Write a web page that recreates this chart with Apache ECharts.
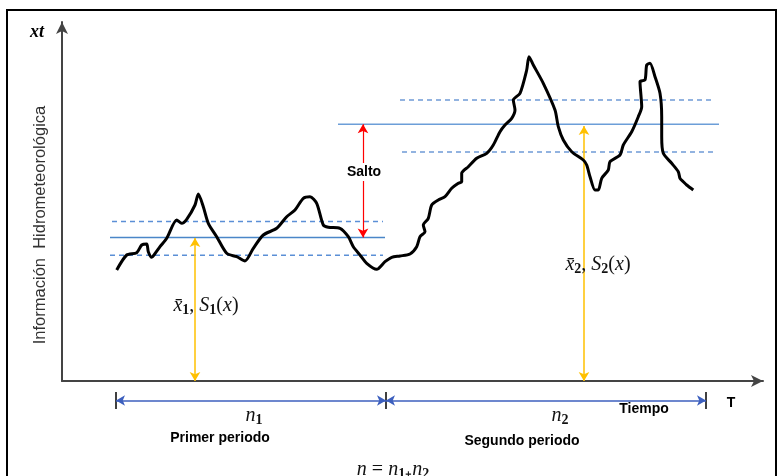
<!DOCTYPE html>
<html>
<head>
<meta charset="utf-8">
<script src="https://cdn.jsdelivr.net/npm/echarts@6/dist/echarts.min.js"></script>
<style>html,body{margin:0;padding:0;background:#fff}#c{width:779px;height:476px}</style>
</head>
<body>
<div id="c"></div>
<script>
// Hydro-meteorological series (time units along x, value units along y)
const curveT = [54.7,64.7,74.7,79.7,84.7,86.3,89.7,92,98,104.7,114.7,119.7,124.7,133,136.3,141.3,146.3,154.7,164.7,174.7,183,191.3,201.3,214.7,224.7,233,241.3,248,254.7,261.3,266.3,278,286.3,291.3,298,304.7,314.7,323,329.7,338,348,354.7,358,363,361.3,366.3,369.7,376.3,383,389.7,396.3,399.7,399.7,406.3,414.7,424.7,431.3,438,443,449.7,453,451.3,458,464.7,467,471.3,481.3,493,496.3,501.3,509.7,521.3,524.7,528,533,536.3,539.7,546.3,548,558,561.3,569.7,576.3,579.7,578,583,584.7,588,593,598,599.7,599.7,601.3,609.7,616.3,618,621.3,624.7,631.3];
const curveV = [111,126,128.3,136,137,129.3,123.7,126,134.3,142.7,161,157.7,161.7,176,187,174.3,157.7,144.3,127.7,124.3,120,132.7,146,152.7,164.3,171,182.7,184.3,177.7,156,153.7,152.7,144.3,134.3,126,117.7,111.7,119.3,123.7,125,127,134.3,144.3,149.3,156,162.7,176,181,184.3,192.7,197.7,199.3,207.7,214.3,222.7,227.7,236,249.3,256,262.7,271,281,287.7,311,324.3,316,297.7,271,254.3,241,229.3,221,216,204.3,191,191,202.7,211,219.3,226,236,249.3,264.3,274.3,299.3,301,316,317.7,304.3,287.7,264.3,244.3,227.7,217.7,209.3,202.7,199.3,196,191];

// Period statistics: [tStart, tEnd, value]
const mean1  = [48, 323, 143.5];
const upper1 = [50, 321, 159.5];
const lower1 = [48, 321, 125.7];
const mean2  = [276, 657, 256.7];
const upper2 = [338, 650, 281];
const lower2 = [340, 651, 229];

// Period boundaries on time axis (drawn on the lower time-span strip)
const periodBounds = [54, 324, 644];
const dimLevel = 0;
const tickSpan = [-1, 1];

// Arrow positions: [t, vFrom, vTo]
const meanArrow1 = [133, 0, 143];
const meanArrow2 = [522, 0, 255];
const jumpArrow  = [301, 143.5, 256.7];

const xMax = 701, yMax = 359;

const chart = echarts.init(document.getElementById('c'), null, {renderer:'canvas'});

function hline(a, color, type){
  return {type:'line', data:[[a[0],a[2]],[a[1],a[2]]], showSymbol:false, silent:true,
    lineStyle:{color:color, width:1.5, type:type}, z:2, animation:false};
}
function arrowSeries(items, color, width, gi){
  return {type:'line', data:[], silent:true, clip:false, animation:false, z:4,
    xAxisIndex:gi||0, yAxisIndex:gi||0,
    markLine:{silent:true, symbol:['arrow','arrow'], symbolSize:[8,9], animation:false,
      label:{show:false}, lineStyle:{color:color, width:width, type:'solid'},
      emphasis:{disabled:true},
      data: items}};
}

const series = [
  hline(mean1, '#4A86C8', 'solid'),
  hline(upper1, '#5B8FD6', [5,4]),
  hline(lower1, '#5B8FD6', [5,4]),
  hline(mean2, '#6C9ED8', 'solid'),
  hline(upper2, '#6F9AD6', [5,4]),
  hline(lower2, '#6F9AD6', [5,4]),
  {type:'line', data: curveT.map((t,i)=>[t, curveV[i]]), showSymbol:false, smooth:0.25,
    lineStyle:{color:'#000', width:3}, z:5, animation:false, silent:true},
  arrowSeries([[{coord:[meanArrow1[0],meanArrow1[1]]},{coord:[meanArrow1[0],meanArrow1[2]]}],
               [{coord:[meanArrow2[0],meanArrow2[1]]},{coord:[meanArrow2[0],meanArrow2[2]]}]], '#FFC000', 1.5),
  arrowSeries([[{coord:[jumpArrow[0],jumpArrow[1]]},{coord:[jumpArrow[0],jumpArrow[2]]}]], '#FF0000', 1.2),
  arrowSeries([[{coord:[periodBounds[0],dimLevel]},{coord:[periodBounds[1],dimLevel]}],
               [{coord:[periodBounds[1],dimLevel]},{coord:[periodBounds[2],dimLevel]}]], '#3C5FBE', 1.5, 1)
];
periodBounds.forEach(b=>{
  series.push({type:'line', xAxisIndex:1, yAxisIndex:1, data:[[b,tickSpan[0]],[b,tickSpan[1]]], showSymbol:false, clip:false,
    silent:true, animation:false, lineStyle:{color:'#000', width:1.5}, z:4});
});

const serif = 'Liberation Serif';
const bold = {fontFamily:'Liberation Sans', fontWeight:'bold', fontSize:14, fill:'#000'};
function txt(x,y,text,extra){
  return {type:'text', x:x, y:y, silent:true, z:10,
    style:Object.assign({text:text, align:'center', verticalAlign:'middle'}, bold, extra||{})};
}
const mathRich = {
  i:{fontFamily:serif, fontStyle:'italic', fontSize:20, fill:'#111'},
  n:{fontFamily:serif, fontSize:20, fill:'#111'},
  s:{fontFamily:serif, fontWeight:'bold', fontSize:14, fill:'#111', padding:[9,0,0,0]}
};
function mathTxt(x,y,text){
  return {type:'text', x:x, y:y, silent:true, z:10,
    style:{text:text, rich:mathRich, align:'center', verticalAlign:'middle'}};
}
const hiddenAxis = {axisLabel:{show:false}, axisTick:{show:false}, splitLine:{show:false}, axisLine:{show:false}};

chart.setOption({
  animation:false,
  grid:[{left:62, top:22, right:16, bottom:95},
        {left:62, right:16, top:392, bottom:67}],
  xAxis:[{type:'value', min:0, max:xMax, axisLabel:{show:false}, axisTick:{show:false}, splitLine:{show:false},
    axisLine:{show:true, onZero:false, symbol:['none','arrow'], symbolSize:[9,12], symbolOffset:[0,0],
      lineStyle:{color:'#444', width:2}}},
    Object.assign({type:'value', gridIndex:1, min:0, max:xMax}, hiddenAxis)],
  yAxis:[{type:'value', min:0, max:yMax, axisLabel:{show:false}, axisTick:{show:false}, splitLine:{show:false},
    axisLine:{show:true, onZero:false, symbol:['none','arrow'], symbolSize:[9,12], symbolOffset:[0,0],
      lineStyle:{color:'#444', width:2}}},
    Object.assign({type:'value', gridIndex:1, min:-1, max:1}, hiddenAxis)],
  series: series,
  graphic:[
    {type:'rect', shape:{x:7, y:10, width:769, height:480}, style:{fill:'none', stroke:'#000', lineWidth:2}, silent:true, z:0},
    {type:'text', x:40, y:225, rotation:Math.PI/2, silent:true, z:10,
      style:{text:'Información  Hidrometeorológica', fontFamily:'Liberation Sans', fontSize:16.5, fill:'#333', align:'center', verticalAlign:'middle'}},
    {type:'text', x:37, y:32, silent:true, z:10, style:{text:'xt', fontFamily:serif, fontStyle:'italic', fontWeight:'bold', fontSize:18, fill:'#000', align:'center', verticalAlign:'middle'}},
    {type:'text', x:364, y:172, silent:true, z:10, style:{text:'Salto', fontFamily:'Liberation Sans', fontWeight:'bold', fontSize:14, fill:'#000', backgroundColor:'#fff', padding:[2,1], align:'center', verticalAlign:'middle'}},
    mathTxt(206, 306, '{i|x̄}{s|1}{n|, }{i|S}{s|1}{n|(}{i|x}{n|)}'),
    mathTxt(598, 265, '{i|x̄}{s|2}{n|, }{i|S}{s|2}{n|(}{i|x}{n|)}'),
    mathTxt(254, 416, '{i|n}{s|1}'),
    mathTxt(560, 416, '{i|n}{s|2}'),
    txt(220, 438, 'Primer periodo'),
    txt(522, 441, 'Segundo periodo'),
    txt(644, 409, 'Tiempo'),
    txt(731, 403, 'T'),
    mathTxt(393, 470, '{i|n}{n| = }{i|n}{s|1}{n|₊}{i|n}{s|2}')
  ]
});
</script>
</body>
</html>
